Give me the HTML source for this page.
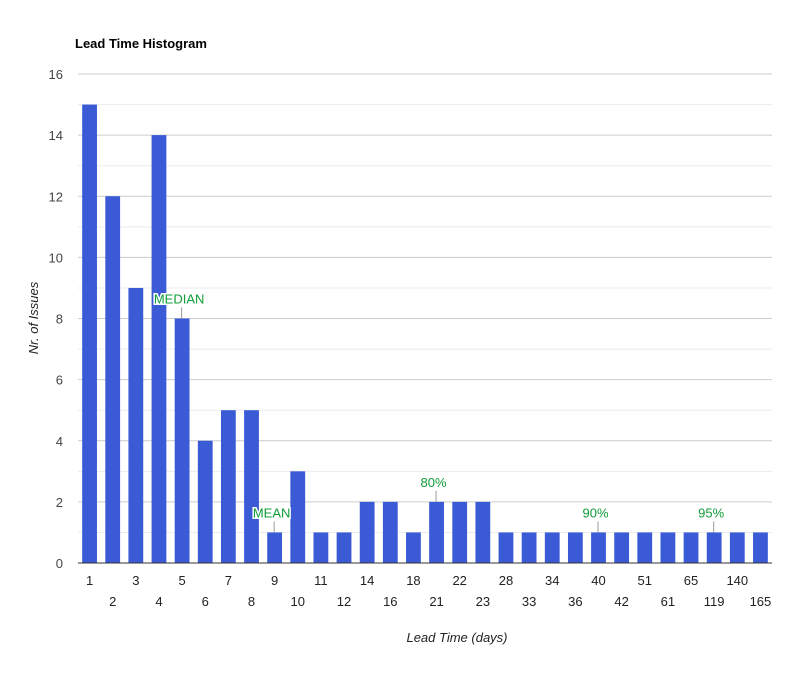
<!DOCTYPE html>
<html><head><meta charset="utf-8"><style>
body{margin:0;background:#fff;font-family:"Liberation Sans",Arial,sans-serif}
</style></head><body>
<svg id="chart" width="788" height="668" xmlns="http://www.w3.org/2000/svg" font-family="Liberation Sans, Arial, sans-serif">
<text x="75" y="48" font-size="13" font-weight="bold" fill="#000">Lead Time Histogram</text>
<text transform="translate(38,318) rotate(-90)" text-anchor="middle" font-size="13" font-style="italic" fill="#222">Nr. of Issues</text>
<text x="457" y="642" text-anchor="middle" font-size="13" font-style="italic" fill="#222">Lead Time (days)</text>
<g id="grid"></g><g id="bars"></g><g id="xlabels"></g><g id="ann"></g>
</svg>
<script>
const categories=["1","2","3","4","5","6","7","8","9","10","11","12","14","16","18","21","22","23","28","33","34","36","40","42","51","61","65","119","140","165"];
const values=[15,12,9,14,8,4,5,5,1,3,1,1,2,2,1,2,2,2,1,1,1,1,1,1,1,1,1,1,1,1];
const yTicks=[0,2,4,6,8,10,12,14,16];
const annLabels=["MEDIAN","MEAN","80%","90%","95%"];
const annCats=["5","9","21","40","119"];
const NS="http://www.w3.org/2000/svg";
const X0=78,X1=772,Y0=563,Y1=74,YMAX=16;
const band=(X1-X0)/categories.length;
const y=v=>Y0-(Y0-Y1)*v/YMAX;
const xc=i=>X0+band*(i+0.5);
function mk(t,a,p){const e=document.createElementNS(NS,t);for(const k in a)e.setAttribute(k,a[k]);p.appendChild(e);return e;}
const grid=document.getElementById('grid');
for(let v=0;v<=YMAX;v++){
  const l=mk('line',{x1:X0,x2:X1,y1:y(v),y2:y(v),stroke:v%2?'#ebebeb':'#cccccc','stroke-width':1},grid);
  
  
}
yTicks.forEach(v=>{
  const t=mk('text',{x:63,y:y(v)+5,'text-anchor':'end','font-size':13,fill:'#444'},grid);
  t.textContent=v;
  
  
});
const bars=document.getElementById('bars');
const bw=band*0.64;
values.forEach((v,i)=>{
  const r=mk('rect',{x:xc(i)-bw/2,y:y(v),width:bw,height:Y0-y(v),fill:'#3b5bd6'},bars);
  
  
});
mk('line',{x1:X0,x2:X1,y1:Y0,y2:Y0,stroke:'#333','stroke-width':1},bars);
const xl=document.getElementById('xlabels');
categories.forEach((c,i)=>{
  const t=mk('text',{x:xc(i),y:i%2?606:585,'text-anchor':'middle','font-size':13,fill:'#222'},xl);
  t.textContent=c;
  
  
});
const ann=document.getElementById('ann');
annCats.forEach((c,k)=>{
  const i=categories.indexOf(c);const top=y(values[i]);
  const l=mk('line',{x1:xc(i)-0.5,x2:xc(i)-0.5,y1:top-11,y2:top,stroke:'#999','stroke-width':1},ann);
  
  
  const t=mk('text',{x:xc(i)-3,y:top-15,'text-anchor':'middle','font-size':13,fill:'#0f9d38',stroke:'#fff','stroke-width':3,'paint-order':'stroke'},ann);
  t.textContent=annLabels[k];
  
  
});
</script>
</body></html>
